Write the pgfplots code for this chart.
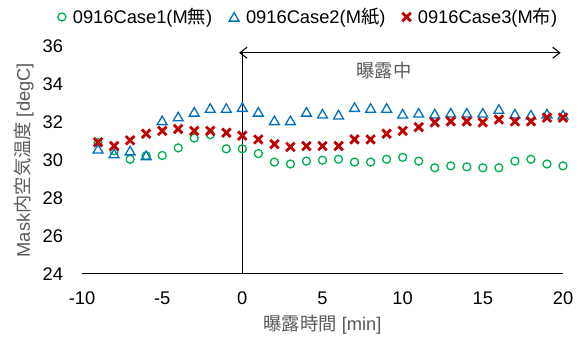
\documentclass[border=0pt]{standalone}
\usepackage{fontspec}
\setmainfont{Liberation Sans}
\newfontfamily\cjk{Noto Sans CJK JP}
\usepackage{pgfplots}
\pgfplotsset{compat=1.18}
\usetikzlibrary{arrows.meta}
\definecolor{cgreen}{HTML}{00B050}
\definecolor{cblue}{HTML}{0070C0}
\definecolor{cred}{HTML}{C00000}
\definecolor{txt}{HTML}{595959}
\begin{document}
\fontsize{18.3bp}{22bp}\selectfont
\begin{tikzpicture}
\begin{axis}[
 at={(82bp,63.3bp)}, anchor=south west,
 scale only axis, width=481bp, height=227bp,
 xmin=-10, xmax=20, ymin=24, ymax=36,
 xtick={-10,-5,...,20}, ytick={24,26,...,36},
 axis x line*=bottom, axis y line*=left,
 y axis line style={draw=none},
 x axis line style={line width=1.2bp, -},
 major tick length=0pt,
 /pgf/number format/assume math mode=true,
 xticklabel style={anchor=center, inner sep=0pt, yshift=-24.5bp},
 yticklabel style={anchor=east, inner sep=0pt, xshift=-18.7bp},
 xlabel={{\cjk 曝露時間} [min]},
 ylabel={Mask{\cjk 内空気温度} [degC]},
 xlabel style={at={(axis description cs:0.5,-0.226)}, anchor=center, text=txt},
 ylabel style={at={(axis description cs:-0.1206,0.5)}, anchor=center, text=txt},
 legend style={draw=none, fill=none, at={(axis description cs:0.471,1.131)}, anchor=center, legend columns=3,
   /tikz/every odd column/.append style={column sep=5bp},
   /tikz/every even column/.append style={column sep=15bp}},
 legend image code/.code={\draw[#1] plot coordinates {(0bp,0bp)};},
]
\addplot[only marks, mark=o, mark size=4bp, cgreen, line width=1.3bp] coordinates {
(-9,30.93) (-8,30.5) (-7,30.05) (-6,30.24) (-5,30.25) (-4,30.65) (-3,31.17) (-2,31.35) (-1,30.6) (0,30.6)
(1,30.35) (2,29.9) (3,29.8) (4,29.95) (5,30.0) (6,30.05) (7,29.9) (8,29.9) (9,30.05) (10,30.15)
(11,29.95) (12,29.6) (13,29.7) (14,29.65) (15,29.6) (16,29.6) (17,29.95) (18,30.05) (19,29.8) (20,29.7)
};
\addlegendentry{0916Case1(M{\cjk 無})}
\addplot[only marks, mark=triangle, mark size=5.7bp, cblue, line width=1.3bp, mark options={yshift=-1.3bp}] coordinates {
(-9,30.6) (-8,30.35) (-7,30.5) (-6,30.25) (-5,32.1) (-4,32.3) (-3,32.55) (-2,32.75) (-1,32.75) (0,32.8)
(1,32.55) (2,32.1) (3,32.1) (4,32.55) (5,32.45) (6,32.4) (7,32.8) (8,32.75) (9,32.75) (10,32.45)
(11,32.5) (12,32.45) (13,32.5) (14,32.5) (15,32.5) (16,32.7) (17,32.45) (18,32.4) (19,32.45) (20,32.4)
};
\addlegendentry{0916Case2(M{\cjk 紙})}
\addplot[only marks, mark=x, mark size=6bp, cred, mark options={line width=2.8bp}] coordinates {
(-9,30.95) (-8,30.75) (-7,31.05) (-6,31.4) (-5,31.55) (-4,31.65) (-3,31.55) (-2,31.55) (-1,31.45) (0,31.3)
(1,31.1) (2,30.85) (3,30.7) (4,30.75) (5,30.75) (6,30.75) (7,31.1) (8,31.1) (9,31.4) (10,31.55)
(11,31.75) (12,32.0) (13,32.05) (14,32.05) (15,32.0) (16,32.15) (17,32.05) (18,32.05) (19,32.25) (20,32.25)
};
\addlegendentry{0916Case3(M{\cjk 布})}
\draw[line width=1.3bp] (axis cs:0,24) -- (axis cs:0,35.68);
\draw[{Straight Barb[length=7bp,width=11bp]}-{Straight Barb[length=7bp,width=11bp]}, line width=1.1bp] (axis cs:-0.2,35.68) -- (axis cs:19.85,35.68);
\node[text=txt] at (axis cs:8.83,34.72) {\cjk 曝露中};
\end{axis}
\pgfresetboundingbox
\useasboundingbox (0,0) rectangle (584bp,337bp);
\end{tikzpicture}
\end{document}
